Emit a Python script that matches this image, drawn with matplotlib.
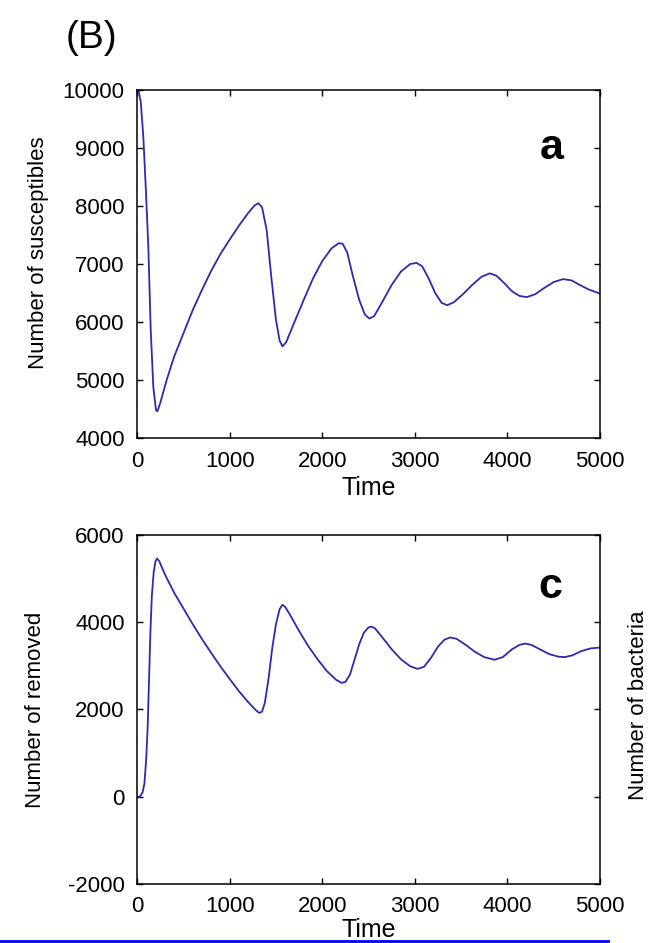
import numpy as np
import matplotlib.pyplot as plt
from matplotlib.lines import Line2D

plt.rcParams['font.family'] = ['Liberation Sans', 'DejaVu Sans']
plt.rcParams['axes.unicode_minus'] = False

# panel a: susceptibles over time
t_sus = [0, 15, 40, 68, 95, 122, 148, 176, 205, 220, 250, 320, 400, 500, 600, 700,
         800, 900, 1000, 1100, 1200, 1270, 1310, 1350, 1400, 1450, 1500, 1540, 1570,
         1610, 1700, 1800, 1900, 2000, 2100, 2180, 2220, 2270, 2330, 2400, 2460, 2510,
         2560, 2650, 2750, 2850, 2950, 3020, 3080, 3150, 3220, 3290, 3350, 3420, 3520,
         3620, 3720, 3810, 3880, 3960, 4050, 4130, 4210, 4300, 4400, 4500, 4600, 4690,
         4780, 4880, 5000]
susceptibles = [10000, 10000, 9800, 9200, 8300, 7300, 5860, 4880, 4480, 4460, 4600,
                5000, 5400, 5800, 6200, 6550, 6880, 7170, 7420, 7660, 7880, 8010, 8050,
                7980, 7590, 6780, 6040, 5680, 5580, 5650, 6000, 6380, 6750, 7050, 7270,
                7360, 7350, 7200, 6800, 6380, 6130, 6060, 6100, 6350, 6640, 6870, 7000,
                7020, 6960, 6750, 6500, 6330, 6290, 6340, 6480, 6640, 6780, 6840, 6800,
                6680, 6530, 6450, 6430, 6480, 6590, 6690, 6740, 6720, 6640, 6560, 6490]

# panel c: removed over time
t_rem = [0, 30, 60, 80, 100, 115, 130, 145, 160, 180, 200, 216, 240, 300, 400, 500,
         600, 700, 800, 900, 1000, 1100, 1200, 1280, 1320, 1350, 1380, 1420, 1460, 1500,
         1540, 1570, 1600, 1650, 1750, 1850, 1950, 2050, 2150, 2210, 2250, 2300, 2350,
         2400, 2450, 2500, 2530, 2570, 2650, 2750, 2850, 2950, 3030, 3100, 3180, 3250,
         3320, 3380, 3450, 3550, 3650, 3750, 3860, 3950, 4050, 4130, 4190, 4260, 4350,
         4450, 4550, 4620, 4700, 4800, 4900, 5000]
removed = [0, 0, 100, 300, 900, 1600, 2700, 3800, 4600, 5150, 5400, 5460, 5400, 5100,
           4680, 4320, 3960, 3620, 3300, 2990, 2700, 2420, 2170, 1990, 1920, 1950, 2150,
           2700, 3400, 3950, 4300, 4400, 4350, 4180, 3800, 3450, 3150, 2880, 2680, 2610,
           2630, 2800, 3150, 3500, 3760, 3880, 3900, 3860, 3650, 3380, 3150, 2990, 2930,
           2980, 3200, 3440, 3600, 3650, 3620, 3480, 3320, 3200, 3140, 3200, 3380, 3480,
           3510, 3480, 3380, 3270, 3210, 3200, 3240, 3340, 3400, 3420]

x_ticks = [0, 1000, 2000, 3000, 4000, 5000]
sus_ticks = [4000, 5000, 6000, 7000, 8000, 9000, 10000]
rem_ticks = [-2000, 0, 2000, 4000, 6000]

line_col = '#2b2bb0'

fig = plt.figure(figsize=(6.5, 9.43), dpi=100)
ax1 = fig.add_axes([0.2108, 0.5355, 0.7123, 0.3690])
ax2 = fig.add_axes([0.2108, 0.0626, 0.7123, 0.3701])


def style_axis(ax):
    ax.tick_params(direction='in', top=True, right=True, length=4.5, width=1.0,
                   labelsize=16, pad=9)
    for s in ax.spines.values():
        s.set_linewidth(1.1)
    ax.set_xlim(0, 5000)
    ax.set_xticks(x_ticks)


ax1.plot(t_sus, susceptibles, color=line_col, lw=1.3)
style_axis(ax1)
ax1.set_ylim(4000, 10000)
ax1.set_yticks(sus_ticks)
ax1.set_xlabel('Time', fontsize=18, va='center')
ax1.xaxis.set_label_coords(0.5, -0.144)
ax1.set_ylabel('Number of susceptibles', fontsize=16, va='center')
ax1.yaxis.set_label_coords(-0.213, 0.534)
ax1.text(4480, 9000, 'a', fontsize=31, fontweight='bold', ha='center', va='center')

ax2.plot(t_rem, removed, color=line_col, lw=1.3)
style_axis(ax2)
ax2.set_ylim(-2000, 6000)
ax2.set_yticks(rem_ticks)
ax2.set_xlabel('Time', fontsize=18, va='center')
ax2.xaxis.set_label_coords(0.5, -0.132)
ax2.set_ylabel('Number of removed', fontsize=16, va='center')
ax2.yaxis.set_label_coords(-0.220, 0.5)
ax2.text(4460, 4800, 'c', fontsize=31, fontweight='bold', ha='center', va='center')

fig.text(66 / 650, 1 - 38 / 943, '(B)', fontsize=28, ha='left', va='center')
fig.text(638 / 650, 1 - 705 / 943, 'Number of bacteria', fontsize=16, rotation=90,
         ha='center', va='center')

# blue rule along the bottom edge
fig.add_artist(Line2D([0, 608 / 650], [1 - 941 / 943] * 2, color='#0000ff', lw=2,
                      transform=fig.transFigure))

fig.savefig('out.png', dpi=100)
